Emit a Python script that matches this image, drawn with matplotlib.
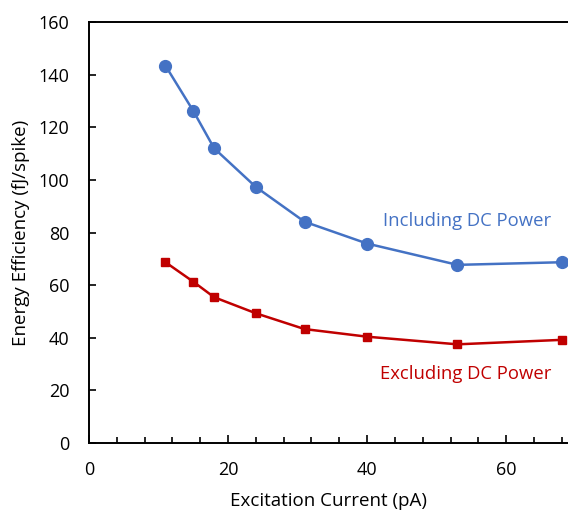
import matplotlib.pyplot as plt
from matplotlib.ticker import MultipleLocator

plt.rcParams['font.family'] = ['Open Sans', 'DejaVu Sans']

current = [11, 15, 18, 24, 31, 40, 53, 68]
incl_dc = [143.4, 126.2, 112.0, 97.3, 84.1, 75.8, 67.7, 68.7]
excl_dc = [68.7, 61.3, 55.4, 49.3, 43.3, 40.4, 37.5, 39.2]

blue = '#4472C4'
red = '#C00000'

fig = plt.figure(figsize=(5.68, 5.13), dpi=100)
ax = fig.add_axes([89/568, 70/513, 479/568, 421/513])

ax.plot(current, incl_dc, color=blue, lw=1.8, marker='o', ms=8.5, zorder=3)
ax.plot(current, excl_dc, color=red, lw=1.8, marker='s', ms=5.8, zorder=3)

ax.text(54.4, 84.5, 'Including DC Power', color=blue, fontsize=13.3, ha='center', va='center')
ax.text(54.2, 26.2, 'Excluding DC Power', color=red, fontsize=13.3, ha='center', va='center')

ax.set_xlim(0, 68.9)
ax.set_ylim(0, 160)
ax.xaxis.set_major_locator(MultipleLocator(20))
ax.xaxis.set_minor_locator(MultipleLocator(4))
ax.yaxis.set_major_locator(MultipleLocator(20))

ax.spines['right'].set_visible(False)
for s in ['left', 'top', 'bottom']:
    ax.spines[s].set_linewidth(1.4)

ax.tick_params(axis='x', which='major', direction='in', length=6, width=1.2, labelsize=13, pad=13)
ax.tick_params(axis='x', which='minor', direction='in', length=4, width=1.2)
ax.tick_params(axis='y', which='major', direction='in', length=5, width=1.2, labelsize=13, pad=14)

ax.set_xlabel('Excitation Current (pA)', fontsize=13.5, labelpad=9)
ax.set_ylabel('Energy Efficiency (fJ/spike)', fontsize=13.5, labelpad=6)

fig.savefig('out.png', dpi=100)
